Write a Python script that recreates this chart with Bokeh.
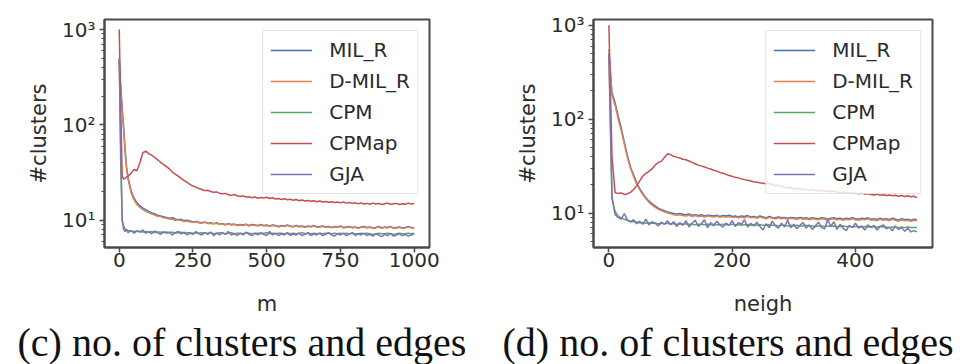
from bokeh.plotting import figure
from bokeh.layouts import row, column
from bokeh.models import Range1d, FixedTicker, Legend, LegendItem, Label
from bokeh.embed import file_html
from bokeh.resources import INLINE

# ---------------- data ----------------
series_names = ["MIL_R", "D-MIL_R", "CPM", "CPMap", "GJA"]
series_colors = ["#4C72B0", "#DD8452", "#55A868", "#C44E52", "#8172B3"]

# left panel: x = m
m_vals = [0, 5, 10, 15, 20, 25] + list(range(30, 1001, 10))

m_mil_r = [500, 260, 150, 95, 55, 36, 28, 20.5, 17, 15.2,
           14.2, 13.4, 12.9, 12.4, 11.9, 11.7, 11.3, 11.1, 10.9, 10.7,
           10.5, 10.6, 10.3, 10.1, 10.2, 9.9, 10.0, 9.8, 9.6, 9.7,
           9.5, 9.4, 9.6, 9.3, 9.4, 9.2, 9.4, 9.1, 9.2, 9.0,
           9.2, 9.0, 9.1, 8.9, 9.0, 8.9, 9.1, 8.8, 9.0, 8.9,
           8.8, 9.0, 8.8, 8.9, 8.7, 8.9, 8.8, 8.6, 8.8, 8.7,
           8.9, 8.7, 8.6, 8.8, 8.6, 8.7, 8.5, 8.7, 8.6, 8.8,
           8.5, 8.6, 8.7, 8.5, 8.6, 8.4, 8.6, 8.5, 8.7, 8.4,
           8.5, 8.6, 8.4, 8.5, 8.3, 8.5, 8.6, 8.4, 8.5, 8.3,
           8.4, 8.6, 8.3, 8.5, 8.4, 8.6, 8.3, 8.4, 8.5, 8.3,
           8.4, 8.6, 8.4, 8.3]

m_dmil_r = [450, 230, 140, 85, 50, 34, 27, 19.5, 16.3, 14.6,
            13.6, 13.0, 12.3, 12.0, 11.6, 11.3, 11.0, 10.9, 10.6, 10.5,
            10.3, 10.2, 10.0, 10.1, 9.9, 9.7, 9.8, 9.6, 9.5, 9.6,
            9.4, 9.3, 9.5, 9.2, 9.3, 9.1, 9.3, 9.0, 9.1, 8.9,
            9.1, 8.9, 9.0, 8.8, 8.9, 8.8, 9.0, 8.7, 8.9, 8.8,
            8.7, 8.9, 8.7, 8.8, 8.6, 8.8, 8.7, 8.5, 8.7, 8.6,
            8.8, 8.6, 8.5, 8.7, 8.5, 8.6, 8.4, 8.6, 8.5, 8.7,
            8.4, 8.5, 8.6, 8.4, 8.5, 8.3, 8.5, 8.4, 8.6, 8.3,
            8.4, 8.5, 8.3, 8.4, 8.2, 8.4, 8.5, 8.3, 8.4, 8.2,
            8.3, 8.5, 8.2, 8.4, 8.3, 8.5, 8.2, 8.3, 8.4, 8.2,
            8.3, 8.5, 8.3, 8.2]

m_cpm = [480, 40, 10.2, 8.6, 8.1, 7.9, 7.8, 7.7, 7.6, 7.7,
         7.6, 7.5, 7.6, 7.5, 7.6, 7.4, 7.5, 7.5, 7.4, 7.5,
         7.4, 7.5, 7.3, 7.4, 7.5, 7.3, 7.4, 7.4, 7.3, 7.4,
         7.3, 7.4, 7.3, 7.3, 7.4, 7.2, 7.3, 7.4, 7.3, 7.2,
         7.3, 7.4, 7.2, 7.3, 7.3, 7.2, 7.4, 7.3, 7.2, 7.3,
         7.3, 7.2, 7.3, 7.4, 7.2, 7.3, 7.2, 7.3, 7.3, 7.2,
         7.3, 7.2, 7.3, 7.2, 7.3, 7.4, 7.2, 7.3, 7.2, 7.3,
         7.2, 7.3, 7.2, 7.3, 7.3, 7.2, 7.3, 7.2, 7.3, 7.2,
         7.3, 7.2, 7.3, 7.2, 7.2, 7.3, 7.2, 7.3, 7.2, 7.1,
         7.2, 7.3, 7.2, 7.2, 7.3, 7.2, 7.1, 7.2, 7.3, 7.2,
         7.2, 7.3, 7.2, 7.3]

m_cpmap = [1000, 150, 29, 27, 27.5, 28.5, 29, 31, 34, 33,
           40, 51, 53, 50, 48, 45.5, 43, 40.5, 38.5, 36.5,
           34.5, 32, 30.5, 29, 27.5, 26, 25, 23.8, 22.8, 22.2,
           21.5, 21.0, 20.4, 20.6, 20.0, 19.6, 19.8, 19.2, 18.9, 19.1,
           18.5, 18.2, 18.6, 18.0, 17.7, 18.0, 17.5, 17.6, 17.2, 17.5,
           17.0, 17.3, 17.1, 17.4, 16.9, 17.2, 16.7, 16.9, 16.5, 16.8,
           16.4, 16.6, 16.2, 16.5, 16.0, 16.3, 15.9, 16.1, 15.8, 16.0,
           15.6, 15.9, 15.5, 15.7, 15.4, 15.6, 15.3, 15.5, 15.2, 15.5,
           15.1, 15.3, 15.0, 15.2, 14.9, 15.2, 14.8, 15.0, 14.7, 15.1,
           14.8, 15.0, 14.6, 14.9, 15.1, 14.7, 14.9, 15.0, 14.6, 14.9,
           14.7, 15.1, 14.8, 15.0]

m_gja = [500, 60, 9.8, 8.0, 7.6, 8.0, 7.4, 7.8, 7.3, 7.7,
         7.5, 7.9, 7.3, 7.6, 7.2, 7.7, 7.4, 7.1, 7.6, 7.3,
         7.5, 7.0, 7.4, 7.6, 7.2, 7.5, 7.0, 7.3, 7.1, 7.6,
         7.2, 7.0, 7.4, 7.1, 7.5, 6.9, 7.3, 7.0, 7.4, 7.1,
         7.6, 7.0, 7.2, 6.9, 7.3, 7.0, 7.5, 7.1, 6.9, 7.3,
         7.0, 7.4, 7.1, 6.9, 7.6, 7.0, 7.3, 6.9, 7.2, 7.0,
         7.4, 6.9, 7.2, 7.0, 7.3, 6.9, 7.1, 7.4, 6.9, 7.2,
         7.0, 7.3, 6.9, 7.1, 7.4, 7.0, 6.8, 7.2, 7.0, 7.3,
         6.9, 7.1, 7.4, 6.9, 7.2, 7.0, 7.3, 6.9, 7.1, 6.8,
         7.2, 7.0, 6.7, 7.1, 6.9, 7.3, 6.8, 7.0, 7.2, 6.9,
         7.1, 6.8, 7.0, 7.2]

# right panel: x = neigh
n_vals = list(range(0, 501, 5))

n_mil_r = [500, 190, 150, 108, 80, 57, 41, 31, 25.5, 21,
           18.2, 16.2, 14.6, 13.4, 12.6, 11.9, 11.3, 10.9, 10.6, 10.3,
           10.1, 9.9, 9.8, 9.9, 9.7, 9.6, 9.8, 9.5, 9.6, 9.4,
           9.6, 9.3, 9.5, 9.4, 9.3, 9.5, 9.2, 9.4, 9.3, 9.5,
           9.2, 9.3, 9.1, 9.3, 9.2, 9.4, 9.1, 9.2, 9.0, 9.3,
           9.1, 8.9, 9.2, 9.0, 8.9, 9.1, 8.9, 9.0, 8.8, 9.0,
           8.9, 8.8, 9.0, 8.8, 8.9, 8.7, 8.9, 8.8, 8.7, 8.9,
           8.8, 8.6, 8.8, 8.9, 8.7, 8.8, 8.6, 8.8, 8.7, 8.9,
           8.7, 8.6, 8.8, 8.7, 8.9, 8.6, 8.7, 8.5, 8.8, 8.6,
           8.7, 8.5, 8.8, 8.6, 8.4, 8.7, 8.5, 8.6, 8.4, 8.6,
           8.5]

n_dmil_r = [560, 180, 140, 100, 75, 54, 39, 30, 24.5, 20.3,
            17.6, 15.7, 14.2, 13.0, 12.2, 11.5, 11.0, 10.6, 10.3, 10.0,
            9.8, 9.6, 9.5, 9.6, 9.4, 9.3, 9.5, 9.2, 9.4, 9.2,
            9.3, 9.1, 9.3, 9.2, 9.1, 9.3, 9.0, 9.2, 9.0, 9.2,
            9.0, 9.1, 8.9, 9.1, 8.9, 9.2, 8.9, 9.0, 8.8, 9.1,
            8.9, 8.7, 9.0, 8.8, 8.7, 8.9, 8.7, 8.8, 8.6, 8.8,
            8.7, 8.6, 8.8, 8.6, 8.7, 8.5, 8.7, 8.6, 8.5, 8.7,
            8.6, 8.4, 8.6, 8.7, 8.5, 8.6, 8.4, 8.6, 8.5, 8.7,
            8.5, 8.4, 8.6, 8.5, 8.7, 8.4, 8.5, 8.3, 8.6, 8.4,
            8.5, 8.3, 8.6, 8.4, 8.2, 8.5, 8.3, 8.4, 8.2, 8.4,
            8.3]

n_cpm = [480, 14, 10.4, 9.3, 8.9, 8.6, 8.4, 8.2, 8.1, 8.0,
         7.9, 7.9, 7.8, 7.9, 7.8, 7.8, 7.7, 7.8, 7.7, 7.8,
         7.7, 7.7, 7.6, 7.7, 7.6, 7.7, 7.6, 7.6, 7.5, 7.6,
         7.6, 7.5, 7.6, 7.5, 7.6, 7.5, 7.5, 7.6, 7.5, 7.5,
         7.6, 7.5, 7.5, 7.4, 7.5, 7.5, 7.4, 7.5, 7.4, 7.5,
         7.4, 7.4, 7.5, 7.4, 7.4, 7.3, 7.4, 7.4, 7.3, 7.4,
         7.3, 7.4, 7.3, 7.3, 7.4, 7.3, 7.3, 7.2, 7.3, 7.3,
         7.2, 7.3, 7.2, 7.3, 7.2, 7.2, 7.3, 7.2, 7.2, 7.1,
         7.2, 7.2, 7.1, 7.2, 7.1, 7.2, 7.1, 7.1, 7.2, 7.1,
         7.1, 7.0, 7.1, 7.1, 7.0, 7.1, 7.0, 7.1, 7.0, 7.0,
         7.0]

n_cpmap = [1000, 40, 16.5, 16.2, 16.4, 15.8, 16.0, 16.6, 17.8, 19.6,
           22.0, 24.8, 26.5, 27.8, 29.5, 32.5, 34.5, 35.5, 39.0, 42.5,
           42.0, 40.2, 39.4, 38.6, 37.4, 37.0, 35.8, 34.6, 33.5, 32.4,
           31.8, 31.0, 30.1, 29.4, 28.6, 28.0, 27.1, 26.6, 25.8, 25.1,
           24.6, 24.0, 23.7, 23.1, 22.7, 22.3, 22.0, 21.6, 21.3, 21.0,
           20.8, 20.5, 20.7, 20.0, 19.6, 19.8, 19.3, 18.9, 18.5, 18.7,
           18.0, 18.4, 17.8, 18.1, 17.7, 17.5, 17.9, 17.4, 17.3, 17.6,
           17.1, 17.3, 16.9, 17.1, 16.8, 16.5, 16.7, 16.3, 16.6, 16.2,
           16.4, 16.1, 16.3, 15.9, 16.1, 15.8, 15.6, 15.9, 15.5, 15.7,
           15.4, 15.6, 15.3, 15.5, 15.1, 15.4, 15.0, 15.3, 14.9, 15.1,
           14.6]

n_gja = [500, 15, 9.6, 9.0, 8.6, 9.9, 8.4, 8.0, 8.5, 7.7,
         8.2, 7.6, 8.6, 7.5, 8.1, 7.8, 7.3, 8.0, 7.6, 8.3,
         7.5, 8.1, 7.2, 7.9, 7.4, 8.3, 7.1, 7.8, 8.4, 7.2,
         7.7, 8.5, 7.0, 7.9, 7.3, 8.2, 7.5, 7.1, 7.8, 7.4,
         8.3, 7.2, 7.9, 7.6, 8.5, 7.1, 7.8, 7.3, 8.0, 7.2,
         6.6, 7.7, 7.0, 8.2, 7.3, 6.9, 7.8, 7.1, 8.4, 7.0,
         7.6, 6.8, 7.4, 7.9, 6.9, 7.5, 6.7, 7.3, 8.0, 7.0,
         6.8, 8.5, 7.2, 8.1, 6.7, 7.6, 6.9, 6.5, 7.4, 7.0,
         7.8, 6.9, 7.3, 6.6, 7.5, 7.0, 7.4, 6.6, 7.2, 7.5,
         6.8, 7.1, 6.5, 7.3, 6.7, 7.0, 6.4, 6.9, 6.3, 6.5,
         6.3]

y_major = [10, 100, 1000]
y_labels = {10: "10\u00b9", 100: "10\u00b2", 1000: "10\u00b3"}
left_xticks = [0, 250, 500, 750, 1000]
right_xticks = [0, 200, 400]
captions = ["(c) no. of clusters and edges", "(d) no. of clusters and edges"]
x_titles = ["m", "neigh"]
y_title = "#clusters"

# ---------------- styling ----------------
SPINE = "#4a4a4a"
TXT = "#2b2b2b"
FONT = "DejaVu Sans"
PAGE_W, PAGE_H = 969, 364
ROW_H = 289

minor = [d * k for d in (1, 10, 100) for k in range(2, 10)]


def make_panel(xs, ys_list, xrange_, yrange_, xticks,
               w, bl, br, bt, bb):
    p = figure(output_backend="svg", toolbar_location=None,
               title_location=None,
               y_axis_type="log", width=w, height=ROW_H,
               min_border_left=bl, min_border_right=br,
               min_border_top=bt, min_border_bottom=bb,
               x_range=Range1d(*xrange_), y_range=Range1d(*yrange_))
    p.background_fill_color = "white"
    p.border_fill_color = "white"
    p.xgrid.grid_line_color = None
    p.ygrid.grid_line_color = None
    p.outline_line_color = SPINE
    p.outline_line_width = 2

    renderers = []
    for ys, c in zip(ys_list, series_colors):
        r = p.line(xs, ys, line_color=c, line_width=1.5)
        renderers.append(r)

    xa = p.xaxis[0]
    xa.ticker = FixedTicker(ticks=xticks)
    ya = p.yaxis[0]
    ya.ticker = FixedTicker(ticks=y_major, minor_ticks=minor)
    ya.major_label_overrides = y_labels
    for ax in (xa, ya):
        ax.axis_line_color = SPINE
        ax.axis_line_width = 2
        ax.major_tick_line_color = SPINE
        ax.major_tick_line_width = 1.5
        ax.major_tick_out = 5
        ax.major_tick_in = 0
        ax.minor_tick_line_color = SPINE if ax is ya else None
        ax.minor_tick_out = 3
        ax.minor_tick_in = 0
        ax.major_label_text_font = FONT
        ax.major_label_text_font_size = "20px"
        ax.major_label_text_color = TXT
        ax.axis_label_text_font = FONT
        ax.axis_label_text_font_size = "21px"
        ax.axis_label_text_font_style = "normal"
        ax.axis_label_text_color = TXT
    xa.major_label_standoff = 0
    ya.axis_label = y_title
    ya.major_label_standoff = 4
    ya.axis_label_standoff = 8

    legend = Legend(items=[LegendItem(label=n, renderers=[r])
                           for n, r in zip(series_names, renderers)],
                    location="top_right", margin=11,
                    label_text_font=FONT, label_text_font_size="20px",
                    label_text_color=TXT,
                    glyph_width=42, glyph_height=20, label_standoff=17,
                    label_height=24, spacing=7, padding=7,
                    border_line_color="#cccccc", border_line_width=1,
                    background_fill_alpha=0.8)
    p.add_layout(legend)
    return p


p1 = make_panel(m_vals, [m_mil_r, m_dmil_r, m_cpm, m_cpmap, m_gja],
                (-50, 1052), (5.17, 1274), left_xticks,
                480, 104, 51, 19, 36)
p2 = make_panel(n_vals, [n_mil_r, n_dmil_r, n_cpm, n_cpmap, n_gja],
                (-25, 525), (4.3, 1150), right_xticks,
                489, 113, 37, 7, 42)

# bottom strip: x-axis titles and sub-figure captions (pixel-aligned coords)
cap_h = PAGE_H - ROW_H
cap = figure(output_backend="svg", toolbar_location=None,
             title_location=None,
             width=PAGE_W, height=cap_h, min_border=0,
             x_range=Range1d(0, PAGE_W), y_range=Range1d(0, cap_h),
             x_axis_location=None, y_axis_location=None)
cap.outline_line_color = None
cap.xgrid.grid_line_color = None
cap.ygrid.grid_line_color = None
cap.background_fill_color = "white"
cap.border_fill_color = "white"
for cx, cy, txt in zip([266.5, 762.5], [61, 61], x_titles):
    cap.add_layout(Label(x=cx, y=cy, text=txt, text_font=FONT,
                         text_font_size="21px", text_color=TXT,
                         text_baseline="alphabetic", text_align="center"))
for cx, txt in zip([17, 502], captions):
    cap.add_layout(Label(x=cx, y=22, text=txt, text_font="Liberation Serif",
                         text_font_size="40px", text_color="#111111",
                         text_baseline="alphabetic", text_align="left"))

layout = column(row(p1, p2), cap)
open("out.html", "w").write(file_html(layout, INLINE))
